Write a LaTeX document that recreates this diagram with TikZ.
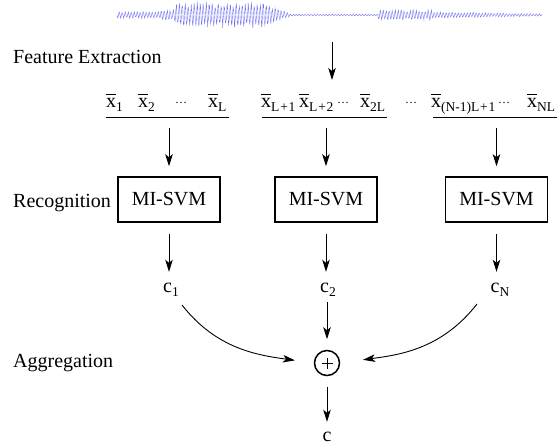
\documentclass[tikz,border=0pt]{standalone}
\usepackage{fontspec}
\setmainfont{Liberation Serif}
\usetikzlibrary{arrows.meta}

% feature vector: x with a bar and a lowered subscript
\newcommand{\xbarsym}{\rlap{\raisebox{12.5pt}{\rule{10pt}{0.9pt}}}x}
\newcommand{\xs}[1]{\xbarsym\raisebox{-4pt}{\fontsize{13.5}{15}\selectfont #1}}
\newcommand{\cs}[1]{c\raisebox{-4pt}{\fontsize{13.5}{15}\selectfont #1}}
\newcommand{\dts}{\raisebox{3.5pt}{\fontsize{12}{12}\selectfont\ldots}}
\newcommand{\pl}{\kern0.8pt+\kern0.8pt}

\definecolor{wavecol}{RGB}{118,118,242}

\begin{document}
\begin{tikzpicture}[x=1pt, y=-1pt,
  every node/.style={font=\fontsize{20}{24}\selectfont},
  lab/.style={anchor=base west, inner sep=0pt},
  feat/.style={anchor=base west, inner sep=0pt},
  clab/.style={anchor=base, inner sep=0pt, text height=9pt, text depth=0pt},
  svm/.style={draw, line width=1.5pt, minimum width=102pt, minimum height=45pt, inner sep=0pt},
  arr/.style={line width=0.9pt, -{Stealth[length=12pt,width=7.5pt,inset=3pt]}},
  rule/.style={line width=1pt},
  wave/.style={draw=wavecol, line width=0.4pt},
  declare function={
    wenv(\t) = (\t<160)*3.5 + (\t>=160)*(\t<175)*6 + (\t>=175)*(\t<262)*13.5
             + (\t>=262)*(\t<292)*(13.5-(\t-262)*0.43)
             + (\t>=292)*(\t<378)*0.8 + (\t>=378)*(\t<432)*5.5
             + (\t>=432)*(3.5-(\t-432)*0.02);
  }]
\useasboundingbox (0,0) rectangle (559,445);

% speech waveform
\pgfmathsetseed{42}
\draw[wave] plot[domain=117:542, samples=1300]
  (\x, {15+wenv(\x)*(0.45+0.55*rnd)*sin(mod(\x,90)*120)});
\coordinate (wv) at (332,42);
\coordinate (fx) at (332,80);
\draw[arr] (wv) -- (fx);

% stage labels
\node[lab] (lfe)  at (13,63)  {Feature Extraction};
\node[lab] (lrec) at (13,207) {Recognition};
\node[lab] (lagg) at (13,367) {Aggregation};

% feature vectors, grouped into segments
\node[feat] (x1)  at (106,107) {\xs{1}};
\node[feat] (x2)  at (138,107) {\xs{2}};
\node[feat] (xd1) at (175,107) {\dts};
\node[feat] (xL)  at (208,107) {\xs{L}};

\node[feat] (xL1) at (261,107) {\xs{L\pl1}};
\node[feat] (xL2) at (299,107) {\xs{L\pl2}};
\node[feat] (xd2) at (337,107) {\dts};
\node[feat] (x2L) at (360,107) {\xs{2L}};

\node[feat] (xd3) at (405,107) {\dts};

\node[feat] (xN1) at (431,107) {\xs{(N-1)L\pl1}};
\node[feat] (xd4) at (498,107) {\dts};
\node[feat] (xNL) at (527,107) {\xs{NL}};

\coordinate (u1a) at (106,117); \coordinate (u1b) at (229,117);
\coordinate (u2a) at (262,117); \coordinate (u2b) at (387,117);
\coordinate (u3a) at (433,117); \coordinate (u3b) at (557,117);
\draw[rule] (u1a) -- (u1b);
\draw[rule] (u2a) -- (u2b);
\draw[rule] (u3a) -- (u3b);

% classifiers
\node[svm] (b1) at (169,199.5)   {MI-SVM};
\node[svm] (b2) at (326,199.5)   {MI-SVM};
\node[svm] (b3) at (496.5,199.5) {MI-SVM};

\draw[arr, shorten <=11pt, shorten >=10pt] (b1 |- u1a) -- (b1.north);
\draw[arr, shorten <=11pt, shorten >=10pt] (b2 |- u2a) -- (b2.north);
\draw[arr, shorten <=11pt, shorten >=10pt] (b3 |- u3a) -- (b3.north);

% segment decisions
\node[clab] (c1) at (171,292) {\cs{1}};
\node[clab] (c2) at (328,292) {\cs{2}};
\node[clab] (cN) at (500,292) {\cs{N}};

\draw[arr, shorten <=11pt, shorten >=11pt] (b1.south) -- (b1.south |- c1.north);
\draw[arr, shorten <=11pt, shorten >=11pt] (b2.south) -- (b2.south |- c2.north);
\draw[arr, shorten <=11pt, shorten >=11pt] (b3.south) -- (b3.south |- cN.north);

% fusion node: circle with a plus
\node[draw, circle, line width=1.5pt, minimum size=25pt, inner sep=0pt] (sum) at (327,363) {};
\draw[line width=0.6pt] ([xshift=-5.5pt]sum.center) -- ([xshift=5.5pt]sum.center);
\draw[line width=0.6pt] ([yshift=-5.5pt]sum.center) -- ([yshift=5.5pt]sum.center);
\node[clab] (c) at (327,441) {c};

\draw[arr, shorten <=10pt, shorten >=10.5pt] (sum |- c2.south) -- (sum.north);
\draw[arr, shorten <=10.5pt, shorten >=10pt] (sum.south) -- (sum |- c.north);
\draw[arr, shorten >=19pt] ([shift={(11,13)}]c1.base) to[out=-52, in=172] (sum.west);
\draw[arr, shorten >=23pt] ([shift={(-23,12)}]cN.base) to[out=-128, in=8] (sum.east);
\end{tikzpicture}
\end{document}
